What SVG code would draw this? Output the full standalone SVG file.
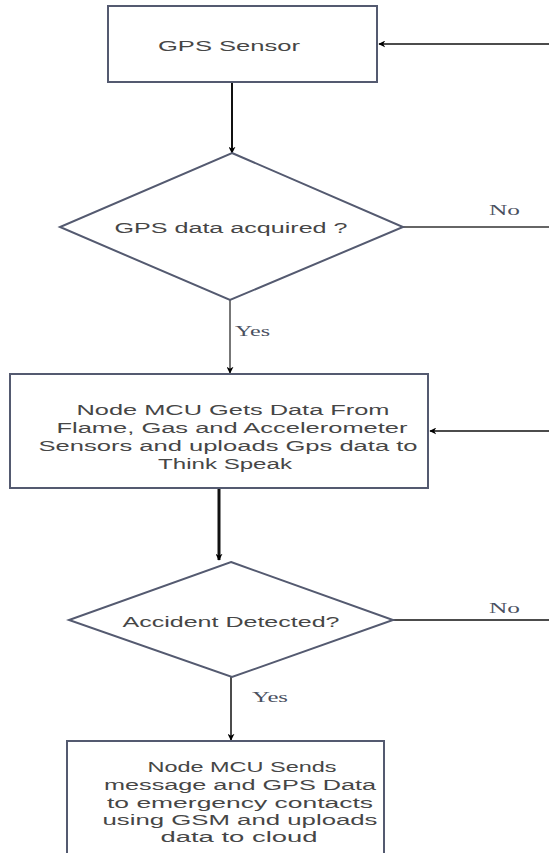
<svg xmlns="http://www.w3.org/2000/svg" width="549" height="853" viewBox="0 0 549 853">
<style>
.node{fill:#fff;stroke:#545a70;stroke-width:2}
.t{font-family:"Liberation Sans",Arial,sans-serif;font-size:15.5px;fill:#464646;text-anchor:middle}
.lbl{font-family:"Liberation Serif","Times New Roman",serif;font-size:15px;fill:#4a5060}
.c{stroke:#111;stroke-width:2;fill:none}
</style>
<defs>
<marker id="ah" viewBox="0 0 10 10" refX="9" refY="5" markerWidth="7" markerHeight="7" markerUnits="userSpaceOnUse" orient="auto">
<path d="M0,0 L10,5 L0,10 L3,5 Z" fill="#000"/>
</marker>
</defs>
<rect width="549" height="853" fill="#fff"/>
<g id="connectors">
<line class="c" x1="549" y1="44" x2="379" y2="44" marker-end="url(#ah)" style="stroke-width:1.5"/>
<line class="c" x1="232" y1="82" x2="232" y2="153" marker-end="url(#ah)"/>
<line class="c" x1="403" y1="227" x2="549" y2="227" style="stroke:#333;stroke-width:1.5"/>
<line class="c" x1="230" y1="300" x2="230" y2="373" marker-end="url(#ah)" style="stroke:#777"/>
<line class="c" x1="549" y1="431" x2="430" y2="431" marker-end="url(#ah)" style="stroke-width:1.5"/>
<line class="c" x1="219" y1="489" x2="219" y2="560" marker-end="url(#ah)" style="stroke-width:3"/>
<line class="c" x1="393" y1="620" x2="549" y2="620" style="stroke-width:1.5"/>
<line class="c" x1="231" y1="677" x2="231" y2="740" marker-end="url(#ah)" style="stroke-width:1.5"/>
<text class="lbl" x="489" y="215" textLength="31" lengthAdjust="spacingAndGlyphs">No</text>
<text class="lbl" x="235" y="336" textLength="35" lengthAdjust="spacingAndGlyphs">Yes</text>
<text class="lbl" x="489" y="613" textLength="31" lengthAdjust="spacingAndGlyphs">No</text>
<text class="lbl" x="252" y="702" textLength="36" lengthAdjust="spacingAndGlyphs">Yes</text>
</g>
<g id="gps-sensor">
<rect class="node" x="108" y="6" width="269" height="76"/>
<text class="t" x="229" y="51" textLength="142" lengthAdjust="spacingAndGlyphs">GPS Sensor</text>
</g>
<g id="gps-acquired">
<polygon class="node" points="232,153 403,227 230,300 60,227"/>
<text class="t" x="231" y="233" textLength="233" lengthAdjust="spacingAndGlyphs">GPS data acquired ?</text>
</g>
<g id="nodemcu-gets">
<rect class="node" x="10" y="374" width="418" height="114"/>
<text class="t" x="233" y="415" textLength="313" lengthAdjust="spacingAndGlyphs">Node MCU Gets Data From</text>
<text class="t" x="232" y="433" textLength="351" lengthAdjust="spacingAndGlyphs">Flame, Gas and Accelerometer</text>
<text class="t" x="228" y="451" textLength="379" lengthAdjust="spacingAndGlyphs">Sensors and uploads Gps data to</text>
<text class="t" x="225" y="469" textLength="134" lengthAdjust="spacingAndGlyphs">Think Speak</text>
</g>
<g id="accident">
<polygon class="node" points="231,562 393,620 232,677 69,620"/>
<text class="t" x="231" y="627" textLength="217" lengthAdjust="spacingAndGlyphs">Accident Detected?</text>
</g>
<g id="nodemcu-sends">
<rect class="node" x="67" y="741" width="317" height="130"/>
<text class="t" x="242" y="772" textLength="189" lengthAdjust="spacingAndGlyphs">Node MCU Sends</text>
<text class="t" x="240" y="790" textLength="272" lengthAdjust="spacingAndGlyphs">message and GPS Data</text>
<text class="t" x="240" y="808" textLength="266" lengthAdjust="spacingAndGlyphs">to emergency contacts</text>
<text class="t" x="240" y="825" textLength="275" lengthAdjust="spacingAndGlyphs">using GSM and uploads</text>
<text class="t" x="239" y="842" textLength="157" lengthAdjust="spacingAndGlyphs">data to cloud</text>
</g>
</svg>
